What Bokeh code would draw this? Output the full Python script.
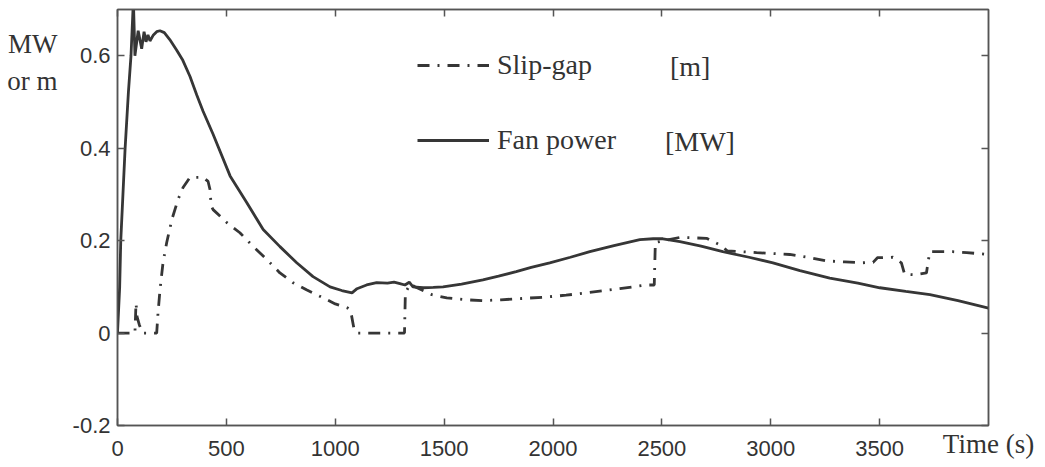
from bokeh.plotting import figure
from bokeh.models import (Range1d, LinearAxis, FixedTicker, Legend, LegendItem, Label)
from bokeh.embed import file_html
from bokeh.resources import INLINE

# ---- data ----
fan_t = [0, 10, 15, 25, 35, 50, 62, 73, 80, 95, 111, 122, 131, 140, 149, 165, 180, 195,
         215, 240, 272, 300, 333, 364, 393, 439, 517, 594, 669, 746, 823, 898, 976, 1030,
         1077, 1100, 1144, 1190, 1240, 1270, 1297, 1320, 1340, 1357, 1404, 1450, 1495,
         1580, 1678, 1750, 1831, 1900, 1985, 2080, 2169, 2280, 2399, 2460, 2505, 2583,
         2680, 2780, 2900, 3010, 3134, 3271, 3400, 3501, 3620, 3731, 3860, 4000]
fan_power = [0, 0.1, 0.2, 0.3, 0.4, 0.52, 0.6, 0.72, 0.6, 0.654, 0.615, 0.652, 0.63, 0.645,
             0.632, 0.645, 0.652, 0.654, 0.65, 0.635, 0.612, 0.59, 0.555, 0.515, 0.48, 0.43,
             0.34, 0.282, 0.224, 0.187, 0.152, 0.122, 0.1, 0.092, 0.087, 0.096, 0.104,
             0.109, 0.108, 0.11, 0.107, 0.104, 0.11, 0.1, 0.098, 0.099, 0.1, 0.106, 0.115,
             0.123, 0.133, 0.142, 0.152, 0.164, 0.176, 0.189, 0.202, 0.204, 0.204, 0.198,
             0.188, 0.176, 0.164, 0.152, 0.135, 0.119, 0.108, 0.098, 0.09, 0.083, 0.07, 0.054]

slip_t = [0, 60, 80, 85, 90, 100, 115, 180, 186, 195, 209, 226, 250, 278, 301, 333, 393,
          416, 425, 430, 439, 502, 562, 624, 686, 746, 806, 870, 945, 1000, 1058, 1070,
          1085, 1100, 1318, 1322, 1345, 1366, 1444, 1512, 1600, 1678, 1760, 1832, 1971,
          2060, 2153, 2307, 2429, 2465, 2470, 2583, 2705, 2770, 2800, 2935, 3087, 3180,
          3257, 3340, 3420, 3470, 3490, 3561, 3600, 3615, 3662, 3715, 3730, 3836, 3900, 4000]
slip_gap = [0, 0, 0.0, 0.065, 0.035, 0.018, 0, 0, 0.043, 0.093, 0.152, 0.196, 0.246, 0.289,
            0.315, 0.337, 0.337, 0.328, 0.31, 0.275, 0.267, 0.239, 0.217, 0.187, 0.159, 0.13,
            0.109, 0.093, 0.076, 0.063, 0.054, 0.05, 0.012, 0, 0, 0.087, 0.107, 0.1, 0.083,
            0.076, 0.072, 0.07, 0.072, 0.074, 0.078, 0.082, 0.087, 0.096, 0.104, 0.104,
            0.196, 0.207, 0.205, 0.19, 0.178, 0.174, 0.17, 0.163, 0.156, 0.154, 0.152, 0.153,
            0.163, 0.164, 0.152, 0.127, 0.126, 0.13, 0.176, 0.176, 0.174, 0.17]

x_ticks = [0, 500, 1000, 1500, 2000, 2500, 3000, 3500]
y_ticks = [-0.2, 0, 0.2, 0.4, 0.6]
y_tick_labels = ["-0.2", "0", "0.2", "0.4", "0.6"]
x_title = "Time (s)"
y_title_lines = ["MW", "or m"]

LINE = "#363636"
AXIS = "#555555"
TEXT = "#333333"
SANS = "Liberation Sans"
SERIF = "Liberation Serif"

p = figure(width=1045, height=467, output_backend="svg", toolbar_location=None,
           x_range=Range1d(0, 4000), y_range=Range1d(-0.2, 0.7),
           min_border_left=117, min_border_right=57, min_border_top=9,
           min_border_bottom=42, background_fill_color="white",
           border_fill_color="white")
p.grid.visible = False
p.outline_line_color = AXIS
p.outline_line_width = 1.5

r_fan = p.line(fan_t, fan_power, line_color=LINE, line_width=2.8)
r_slip = p.line(slip_t, slip_gap, line_color=LINE, line_width=2.8,
                line_dash="12 8 2 8")

def style_axis(ax, labels=True):
    ax.axis_line_color = AXIS
    ax.axis_line_width = 1.5
    ax.major_tick_in = 7
    ax.major_tick_out = 0
    ax.major_tick_line_color = AXIS
    ax.major_tick_line_width = 1.5
    ax.minor_tick_line_color = None
    if labels:
        ax.major_label_text_font = SANS
        ax.major_label_text_font_size = "22px"
        ax.major_label_text_color = TEXT
    else:
        ax.major_label_text_font_size = "1px"
        ax.major_label_text_color = None
        ax.major_label_standoff = 0

def title_axis(ax):
    # an axis used only to place a title text beside the frame
    ax.axis_line_color = None
    ax.major_tick_line_color = None
    ax.minor_tick_line_color = None
    ax.major_tick_in = 0
    ax.major_tick_out = 0
    ax.major_label_text_font = SERIF
    ax.major_label_text_font_size = "27px"
    ax.major_label_text_color = TEXT

xa = p.xaxis[0]
xa.ticker = FixedTicker(ticks=x_ticks)
style_axis(xa)
xa.major_label_standoff = 15

ya = p.yaxis[0]
ya.ticker = FixedTicker(ticks=y_ticks)
ya.major_label_overrides = {t: s for t, s in zip(y_ticks, y_tick_labels)}
style_axis(ya)
ya.major_label_standoff = 7

top = LinearAxis(ticker=FixedTicker(ticks=x_ticks))
style_axis(top, labels=False)
p.add_layout(top, "above")
right = LinearAxis(ticker=FixedTicker(ticks=y_ticks))
style_axis(right, labels=False)
p.add_layout(right, "right")

# "Time (s)" at the right end of the x axis, on the tick-label row
xt = LinearAxis(ticker=FixedTicker(ticks=[4000]),
                major_label_overrides={4000: x_title})
title_axis(xt)
xt.major_label_standoff = -30
p.add_layout(xt, "below")

# "MW / or m" to the left of the y tick labels
yt_pos = [0.626, 0.546]
yt = LinearAxis(ticker=FixedTicker(ticks=yt_pos),
                major_label_overrides={t: s for t, s in zip(yt_pos, y_title_lines)})
title_axis(yt)
yt.major_label_standoff = 12
p.add_layout(yt, "left")

legend = Legend(items=[LegendItem(label="Slip-gap", renderers=[r_slip]),
                       LegendItem(label="Fan power", renderers=[r_fan])],
                location=(300, 269), padding=0, margin=0, spacing=43,
                glyph_width=72, glyph_height=32, label_height=32,
                label_standoff=8, border_line_color=None,
                background_fill_alpha=0,
                label_text_font=SERIF, label_text_font_size="28px",
                label_text_color=TEXT)
p.add_layout(legend)

for txt, x, y in [("[m]", 2537, 0.577), ("[MW]", 2514, 0.415)]:
    p.add_layout(Label(x=x, y=y, text=txt, text_font=SERIF, text_font_size="28px",
                       text_color=TEXT, text_baseline="middle"))

open("out.html", "w").write(file_html(p, INLINE))
